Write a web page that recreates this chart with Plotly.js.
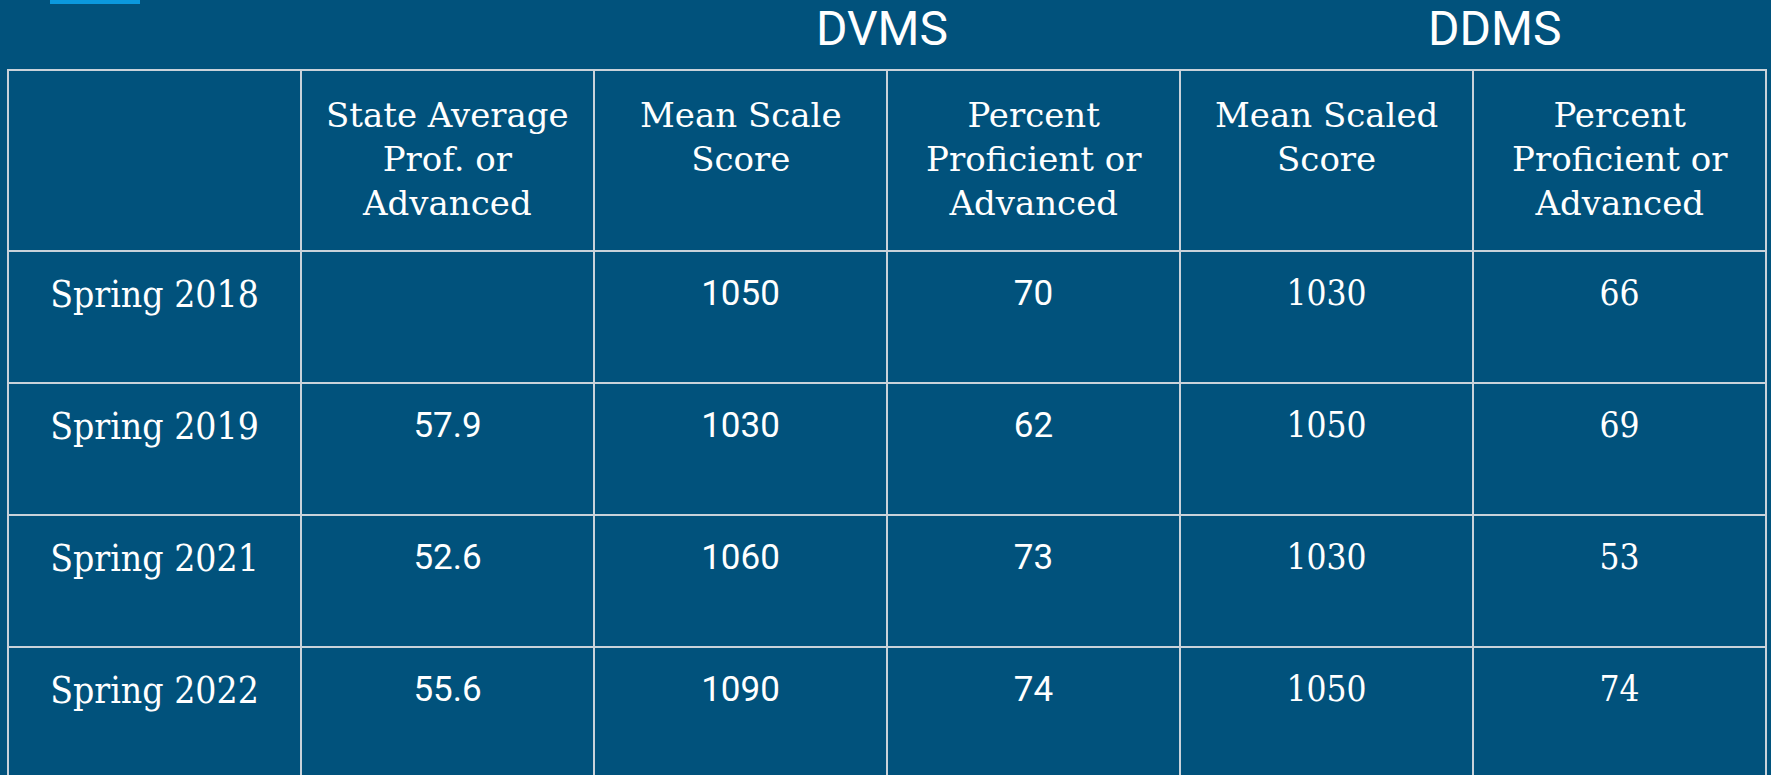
<!DOCTYPE html>
<html>
<head>
<meta charset="utf-8">
<script src="https://cdn.plot.ly/plotly-3.0.1.min.js"></script>
<style>
  html, body { margin: 0; padding: 0; background: #01527c; overflow: hidden; }
  #chart { width: 1771px; height: 775px; }
</style>
</head>
<body>
<div id="chart"></div>
<script>
// ---- data ----
var headerLabels = [
  '',
  'State Average<br>Prof. or<br>Advanced',
  'Mean Scale<br>Score',
  'Percent<br>Proficient or<br>Advanced',
  'Mean Scaled<br>Score',
  'Percent<br>Proficient or<br>Advanced'
];
var terms = ['Spring 2018', 'Spring 2019', 'Spring 2021', 'Spring 2022'];
var stateAvgProf = ['', '57.9', '52.6', '55.6'];
var dvmsMeanScale = ['1050', '1030', '1060', '1090'];
var dvmsPctProf = ['70', '62', '73', '74'];
var ddmsMeanScaled = ['1030', '1050', '1030', '1050'];
var ddmsPctProf = ['66', '69', '53', '74'];
var groupTitles = ['DVMS', 'DDMS'];

// ---- style ----
var W = 1771, H = 775;
var BG = '#01527c';
var LINE = '#c9d2da';
var tableLeft = 8, tableRight = 1766, tableTop = 70;
var headerH = 181, rowH = 132;
var textShift = 20;  // push cell text lower inside cells
var slab = "'DejaVu Serif Condensed', 'DejaVu Serif', serif";
var slabWide = "'DejaVu Serif', serif";
var sans = "Roboto, 'Open Sans', sans-serif";
var nCols = headerLabels.length;
var colW = (tableRight - tableLeft) / nCols;

var columns = [terms, stateAvgProf, dvmsMeanScale, dvmsPctProf, ddmsMeanScaled, ddmsPctProf];
var emptyCols = columns.map(function (c) { return c.map(function () { return ''; }); });
var emptyHeader = headerLabels.map(function () { return ''; });
var dom = [tableLeft / W, tableRight / W];

var gridTable = {
  type: 'table',
  domain: { x: dom, y: [0, 1 - tableTop / H] },
  columnwidth: headerLabels.map(function () { return 1; }),
  header: {
    values: emptyHeader,
    height: headerH,
    fill: { color: BG },
    line: { color: LINE, width: 2 },
    font: { size: 10, color: 'white' }
  },
  cells: {
    values: emptyCols,
    height: rowH,
    fill: { color: BG },
    line: { color: LINE, width: 2 },
    font: { size: 10, color: 'white' }
  },
  hoverinfo: 'skip'
};

var textTable = {
  type: 'table',
  domain: { x: dom, y: [0, 1 - (tableTop + textShift) / H] },
  columnwidth: headerLabels.map(function () { return 1; }),
  header: {
    values: emptyHeader,
    height: headerH,
    align: 'center',
    fill: { color: 'rgba(0,0,0,0)' },
    line: { color: 'rgba(0,0,0,0)', width: 0 },
    font: { family: slab, size: 10, color: 'white' }
  },
  cells: {
    values: columns,
    height: rowH,
    align: 'center',
    fill: { color: 'rgba(0,0,0,0)' },
    line: { color: 'rgba(0,0,0,0)', width: 0 },
    font: {
      family: [slab, sans, sans, sans, slab, slab],
      size: [37, 35, 35, 35, 35, 35],
      color: 'white'
    }
  },
  hoverinfo: 'skip'
};

// header labels: centred multi-line text over each column
var annotations = headerLabels.map(function (lbl, i) {
  return {
    text: lbl, xref: 'paper', yref: 'paper',
    x: (tableLeft + colW * (i + 0.5)) / W, y: 1 - (tableTop + 23) / H,
    xanchor: 'center', yanchor: 'top', align: 'center', showarrow: false,
    font: { family: slabWide, size: 34, color: 'white' }
  };
}).filter(function (a) { return a.text !== ''; });

var groupX = [882, 1494];
groupTitles.forEach(function (t, i) {
  annotations.push({
    text: t, xref: 'paper', yref: 'paper', x: groupX[i] / W, y: 1 - 28 / H,
    xanchor: 'center', yanchor: 'middle', showarrow: false,
    font: { family: sans, size: 48, color: 'white' }
  });
});

var layout = {
  width: W, height: H,
  margin: { l: 0, r: 0, t: 0, b: 0 },
  paper_bgcolor: BG,
  plot_bgcolor: BG,
  showlegend: false,
  annotations: annotations,
  shapes: [
    { type: 'rect', xref: 'paper', yref: 'paper', x0: 50 / W, x1: 140 / W, y0: 1 - 4 / H, y1: 1,
      fillcolor: '#0b99de', line: { width: 0 } }
  ]
};

Plotly.newPlot('chart', [gridTable, textTable], layout, { displayModeBar: false, staticPlot: true });
</script>
</body>
</html>
